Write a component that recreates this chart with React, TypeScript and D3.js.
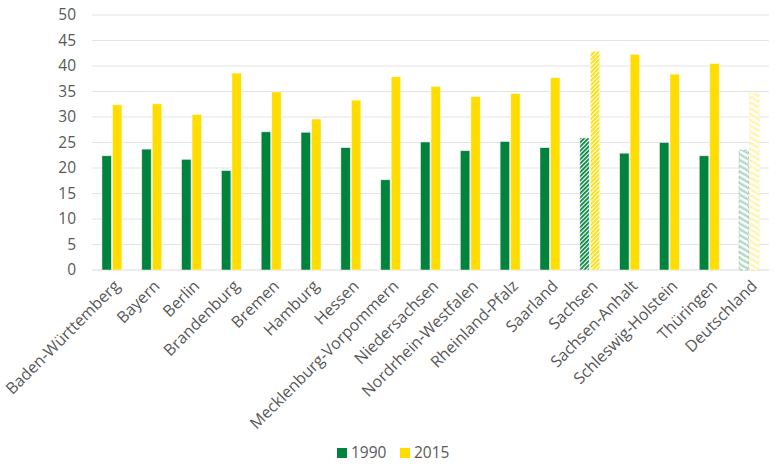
import { useEffect, useRef } from 'react';
import * as d3 from 'd3';

const CATEGORIES = [
  'Baden-Württemberg', 'Bayern', 'Berlin', 'Brandenburg', 'Bremen', 'Hamburg', 'Hessen',
  'Mecklenburg-Vorpommern', 'Niedersachsen', 'Nordrhein-Westfalen', 'Rheinland-Pfalz',
  'Saarland', 'Sachsen', 'Sachsen-Anhalt', 'Schleswig-Holstein', 'Thüringen', 'Deutschland',
];
const VALUES_1990 = [22.4, 23.7, 21.7, 19.5, 27.1, 27.0, 24.0, 17.7, 25.1, 23.4, 25.2, 24.0, 25.9, 22.9, 25.0, 22.4, 23.5];
const VALUES_2015 = [32.4, 32.6, 30.5, 38.6, 34.9, 29.6, 33.3, 37.9, 36.0, 34.0, 34.6, 37.7, 42.9, 42.3, 38.4, 40.5, 34.6];
const Y_TICKS = [0, 5, 10, 15, 20, 25, 30, 35, 40, 45, 50];
const SERIES = [
  { key: '1990', color: '#00843D', values: VALUES_1990 },
  { key: '2015', color: '#FFDD00', values: VALUES_2015 },
];
const FONT = '"Open Sans", "Liberation Sans", sans-serif';
const TEXT_COLOR = '#595959';

export default function App() {
  const svgRef = useRef<SVGSVGElement>(null);

  useEffect(() => {
    const svgEl = svgRef.current;
    if (!svgEl) return;
    const width = 780;
    const margin = { top: 15, right: 11, left: 92 };
    const plotBottom = 270;

    const svg = d3.select(svgEl);
    svg.selectAll('*').remove();

    // Patterns for the special bars (Sachsen / Deutschland)
    const defs = svg.append('defs');
    SERIES.forEach((s) => {
      const dense = defs.append('pattern').attr('id', `dense-${s.key}`)
        .attr('patternUnits', 'userSpaceOnUse').attr('width', 3).attr('height', 3)
        .attr('patternTransform', 'rotate(45)');
      dense.append('rect').attr('width', 3).attr('height', 3).attr('fill', '#fff');
      dense.append('rect').attr('width', 1.8).attr('height', 3).attr('fill', s.color);
      const light = defs.append('pattern').attr('id', `light-${s.key}`)
        .attr('patternUnits', 'userSpaceOnUse').attr('width', 5).attr('height', 5)
        .attr('patternTransform', 'rotate(-60)');
      light.append('rect').attr('width', 5).attr('height', 5).attr('fill', '#fff');
      light.append('rect').attr('width', 2.5).attr('height', 5).attr('fill', s.color).attr('opacity', 0.3);
    });

    const x = d3.scaleBand().domain(CATEGORIES).range([margin.left, width - margin.right]);
    const xInner = d3.scaleBand().domain(SERIES.map((s) => s.key))
      .range([x.bandwidth() / 2 - 10, x.bandwidth() / 2 + 10]).paddingInner(0.1);
    const y = d3.scaleLinear().domain([0, 50]).range([plotBottom, margin.top]);

    // Gridlines
    svg.append('g').selectAll('line').data(Y_TICKS).join('line')
      .attr('x1', margin.left).attr('x2', width - margin.right)
      .attr('y1', (d) => y(d)).attr('y2', (d) => y(d))
      .attr('stroke', (d) => (d === 0 ? '#d9d9d9' : '#e3e3e3')).attr('stroke-width', 1);

    // Y tick labels
    svg.append('g').selectAll('text').data(Y_TICKS).join('text')
      .attr('x', 76).attr('y', (d) => y(d)).attr('dy', '0.35em')
      .attr('text-anchor', 'end').attr('font-family', FONT).attr('font-size', 15.5).attr('fill', TEXT_COLOR)
      .text((d) => d);

    // Bars
    const fillFor = (key: string, color: string, cat: string) => {
      if (cat === 'Sachsen') return `url(#dense-${key})`;
      if (cat === 'Deutschland') return `url(#light-${key})`;
      return color;
    };
    SERIES.forEach((s) => {
      svg.append('g').selectAll('rect').data(CATEGORIES).join('rect')
        .attr('x', (c) => (x(c) ?? 0) + (xInner(s.key) ?? 0))
        .attr('width', xInner.bandwidth())
        .attr('y', (_, i) => y(s.values[i]))
        .attr('height', (_, i) => plotBottom - y(s.values[i]))
        .attr('fill', (c) => fillFor(s.key, s.color, c))
        .attr('stroke', (c) => (c === 'Deutschland' ? s.color : '#fff'))
        .attr('stroke-opacity', (c) => (c === 'Deutschland' ? 0.35 : 0.6))
        .attr('stroke-dasharray', (c) => (c === 'Deutschland' ? '3 2' : null))
        .attr('stroke-width', 0.8);
    });

    // X labels rotated -45
    svg.append('g').selectAll('text').data(CATEGORIES).join('text')
      .attr('transform', (c) => `translate(${(x(c) ?? 0) + x.bandwidth() / 2 + 5},${plotBottom + 13}) rotate(-45)`)
      .attr('text-anchor', 'end').attr('dy', '0.35em')
      .attr('font-family', FONT).attr('font-size', 16).attr('fill', TEXT_COLOR)
      .text((c) => c);

    // Legend
    const legend = svg.append('g').attr('transform', 'translate(337,453)');
    SERIES.forEach((s, i) => {
      const g = legend.append('g').attr('transform', `translate(${i * 63},0)`);
      g.append('rect').attr('x', 0).attr('y', -5).attr('width', 10).attr('height', 10).attr('fill', s.color);
      g.append('text').attr('x', 14).attr('y', 0).attr('dy', '0.35em')
        .attr('font-family', FONT).attr('font-size', 15.5).attr('fill', TEXT_COLOR).text(s.key);
    });
  }, []);

  return (
    <svg ref={svgRef} width={780} height={473}
      style={{ position: 'absolute', left: 0, top: 0, background: '#fff' }} />
  );
}
